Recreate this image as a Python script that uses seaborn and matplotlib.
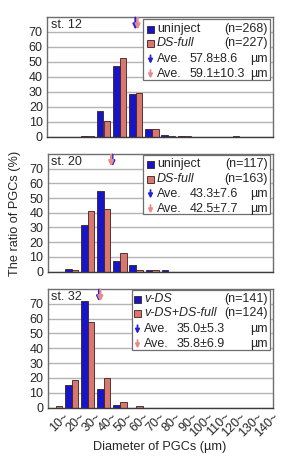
import numpy as np
import pandas as pd
import matplotlib
matplotlib.use("Agg")
import matplotlib.pyplot as plt
from matplotlib.patches import Rectangle
import seaborn as sns

# ---------------- data ----------------
categories = ["10~", "20~", "30~", "40~", "50~", "60~", "70~",
              "80~", "90~", "100~", "110~", "120~", "130~", "140~"]

st12_uninject = [0, 0, 0.4, 17.4, 47.0, 28.2, 5.1, 1.3, 0.3, 0, 0, 0, 0, 0]
st12_dsfull = [0, 0, 0.4, 10.7, 52.3, 29.1, 5.1, 0.3, 0.5, 0, 0, 0.4, 0, 0]
st20_uninject = [0, 1.8, 31.9, 55.1, 6.9, 4.5, 0.9, 0.7, 0, 0, 0, 0, 0, 0]
st20_dsfull = [0, 1.3, 41.5, 42.8, 12.9, 1.3, 0.7, 0, 0, 0, 0, 0, 0, 0]
st32_vds = [0, 15.1, 71.8, 12.2, 1.6, 0, 0, 0, 0, 0, 0, 0, 0, 0]
st32_vds_dsfull = [0.7, 18.9, 57.6, 19.8, 3.6, 0.7, 0, 0, 0, 0, 0, 0, 0, 0]

stages = ["st. 12", "st. 20", "st. 32"]
group_names = [("uninject", "DS-full"), ("uninject", "DS-full"), ("v-DS", "v-DS+DS-full")]
n_values = [(268, 227), (117, 163), (141, 124)]
means = [(57.8, 59.1), (43.3, 42.5), (35.0, 35.8)]
sds = [(8.6, 10.3), (7.6, 7.7), (5.3, 6.9)]
series = [(st12_uninject, st12_dsfull), (st20_uninject, st20_dsfull),
          (st32_vds, st32_vds_dsfull)]

yticks = [0, 10, 20, 30, 40, 50, 60, 70]

# ---------------- style ----------------
sns.set_theme(style="white")
plt.rcParams["font.family"] = ["Liberation Sans", "DejaVu Sans"]
plt.rcParams["mathtext.fontset"] = "custom"

BLUE = "#1616c8"
RED = "#d9776f"
BLUE_ARROW = "#2222d8"
PINK_ARROW = "#ea8a88"
FS = 9

W, H = 287, 466
fig = plt.figure(figsize=(W / 100, H / 100), dpi=100)
fig.patch.set_facecolor("white")

# panel pixel boxes: (left, right, top, bottom)
boxes = [(47, 273, 17, 136.5), (47.5, 273, 154, 271.5), (47.5, 273, 289, 407.5)]
# legend geometry per panel (px, relative to panel top / absolute x)
leg_box = [(143, 270, 2, 63), (143, 270, 0.5, 60), (132, 269.5, 0.5, 61)]
leg_rows = [(12.3, 26.3, 42.3, 57), (10, 25, 40, 55), (10.3, 24.3, 40.3, 55)]
leg_marker_x = [150.5, 150.5, 137.5]
leg_text_x = [157, 157, 144]
leg_num_x = [190, 190, 177]
leg_right_x = 267.5

for i in range(3):
    l, r, t, b = boxes[i]
    ax = fig.add_axes([l / W, (H - b) / H, (r - l) / W, (b - t) / H])
    g1, g2 = group_names[i]
    df = pd.DataFrame({
        "size": categories * 2,
        "ratio": list(series[i][0]) + list(series[i][1]),
        "group": [g1] * len(categories) + [g2] * len(categories),
    })
    sns.barplot(data=df, x="size", y="ratio", hue="group", order=categories,
                hue_order=[g1, g2], palette=[BLUE, RED], width=0.82,
                edgecolor="#3a2020", linewidth=0.6, legend=False, ax=ax,
                saturation=1)
    ax.set_ylim(0, 80)
    ax.set_xlim(-0.5, len(categories) - 0.5)
    ax.set_yticks(yticks)
    ax.set_yticklabels([str(v) for v in yticks], fontsize=FS)
    ax.tick_params(axis="y", length=0, pad=3)
    ax.yaxis.grid(True, color="#b4b4b4", linewidth=1.0)
    ax.set_axisbelow(True)
    ax.set_xlabel("")
    ax.set_ylabel("")
    for sp in ax.spines.values():
        sp.set_color("#6e6e6e")
        sp.set_linewidth(1.0)
    ax.spines["bottom"].set_color("#3c3c3c")
    if i < 2:
        ax.set_xticks([])
    else:
        ax.set_xticks(np.arange(len(categories)) + 0.45)
        ax.set_xticklabels(categories, rotation=45, ha="right",
                           rotation_mode="anchor", fontsize=FS)
        ax.tick_params(axis="x", length=0, pad=2)

    # stage label
    ax.text(0.017, 0.985, stages[i], transform=ax.transAxes, fontsize=FS,
            ha="left", va="top")

    # mean arrows
    for m, col in zip(means[i], (BLUE_ARROW, PINK_ARROW)):
        xpos = m / 10 - 0.8
        ax.annotate("", xy=(xpos, 71.5), xytext=(xpos, 79.5),
                    arrowprops=dict(arrowstyle="-|>", color=col, lw=1.6,
                                    mutation_scale=7, shrinkA=0, shrinkB=0))

    # manual legend
    ph = b - t
    pw = r - l
    fx = lambda px: (px - l) / pw
    fy = lambda py: 1 - py / ph
    x0, x1, y0, y1 = leg_box[i]
    ax.add_patch(Rectangle((fx(x0), fy(y1)), fx(x1) - fx(x0), fy(y0) - fy(y1),
                           transform=ax.transAxes, facecolor="white",
                           edgecolor="#6e6e6e", linewidth=0.9, zorder=5))
    rows = leg_rows[i]
    mx = leg_marker_x[i]
    for j, (name, col, n) in enumerate(zip((g1, g2), (BLUE, RED), n_values[i])):
        ax.add_patch(Rectangle((fx(mx - 3.5), fy(rows[j] + 3.5)), 7 / pw, 7 / ph,
                               transform=ax.transAxes, facecolor=col,
                               edgecolor="#3a2020", linewidth=0.6, zorder=6))
        style = "normal" if name == "uninject" else "italic"
        ax.text(fx(leg_text_x[i]), fy(rows[j]), name, transform=ax.transAxes,
                fontsize=FS, ha="left", va="center", style=style, zorder=7)
        ax.text(fx(leg_right_x), fy(rows[j]), f"(n={n})", transform=ax.transAxes,
                fontsize=FS, ha="right", va="center", zorder=7)
    for j, (m, s, col) in enumerate(zip(means[i], sds[i], (BLUE_ARROW, PINK_ARROW))):
        yy = rows[2 + j]
        ax.annotate("", xy=(fx(mx), fy(yy + 4.5)), xytext=(fx(mx), fy(yy - 4)),
                    xycoords="axes fraction", textcoords="axes fraction",
                    arrowprops=dict(arrowstyle="-|>", color=col, lw=1.3,
                                    mutation_scale=6, shrinkA=0, shrinkB=0),
                    zorder=7)
        ax.text(fx(leg_text_x[i]), fy(yy), "Ave.", transform=ax.transAxes,
                fontsize=FS, ha="left", va="center", zorder=7)
        ax.text(fx(leg_num_x[i]), fy(yy), f"{m:.1f}\u00b1{s:.1f}",
                transform=ax.transAxes, fontsize=FS, ha="left", va="center",
                zorder=7)
        ax.text(fx(leg_right_x), fy(yy), "\u00b5m", transform=ax.transAxes,
                fontsize=FS, ha="right", va="center", zorder=7)

fig.text(15 / W, 1 - 213 / H, "The ratio of PGCs (%)", rotation=90,
         ha="center", va="center", fontsize=FS + 0.2)
fig.text(160 / W, 1 - 447 / H, "Diameter of PGCs (\u00b5m)",
         ha="center", va="center", fontsize=FS + 0.2)

fig.savefig("out.png", dpi=100, facecolor="white")
